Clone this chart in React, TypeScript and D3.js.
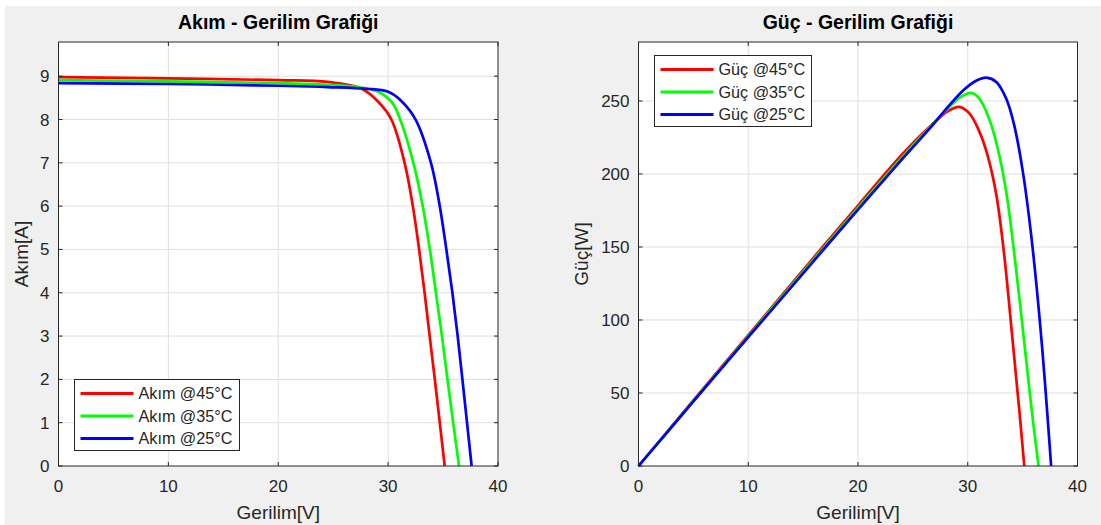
import React, { useEffect, useRef } from "react";
import * as d3 from "d3";

// I-V data (voltage in V, current in A)
const ivV45 = [0, 10, 20, 24.5, 27.6, 29.1, 30.3, 31.5, 32.25, 32.82, 33.32, 33.78, 34.25, 34.7, 35.15];
const ivI45 = [8.98, 8.95, 8.91, 8.87, 8.71, 8.41, 8.0, 7.0, 6.0, 5.0, 4.0, 3.0, 2.0, 1.0, 0];
const ivV35 = [0, 10, 20, 24.5, 27.5, 29.1, 30.4, 31.1, 32.3, 33.15, 33.8, 34.35, 34.9, 35.4, 35.92, 36.45];
const ivI35 = [8.91, 8.88, 8.84, 8.8, 8.74, 8.64, 8.38, 8.0, 7.0, 6.0, 5.0, 4.0, 3.0, 2.0, 1.0, 0];
const ivV25 = [0, 10, 20, 24.5, 28, 30, 31.2, 32.5, 33.9, 34.7, 35.3, 35.85, 36.33, 36.76, 37.18, 37.6];
const ivI25 = [8.84, 8.82, 8.78, 8.75, 8.71, 8.64, 8.43, 8.0, 7.0, 6.0, 5.0, 4.0, 3.0, 2.0, 1.0, 0];

// P-V data (voltage in V, power in W)
const pvV45 = [0, 5, 10, 15, 20, 24, 26.7, 28.2, 29.2, 30.15, 31.06, 31.8, 32.6, 33.3, 34.1, 34.7, 35.15];
const pvP45 = [0, 44.9, 89.6, 134.2, 178.4, 213.2, 233.5, 243, 246, 241.5, 229, 213, 186, 146, 85, 38, 0];
const pvV35 = [0, 5, 10, 15, 20, 24, 26.7, 28.2, 29.4, 30.3, 31.06, 32, 32.7, 33.5, 34.2, 35, 35.8, 36.45];
const pvP35 = [0, 44.5, 88.8, 133, 176.8, 211.2, 233.2, 245, 253, 255.6, 251.7, 236.8, 218.5, 188, 148, 95, 40, 0];
const pvV25 = [0, 5, 10, 15, 20, 24, 26.7, 28.2, 29.7, 30.8, 31.7, 32.6, 33.5, 34.2, 35, 35.8, 36.7, 37.6];
const pvP25 = [0, 44.2, 88.2, 132, 175.6, 210, 232.6, 246, 258, 264, 266, 263, 251.7, 234.5, 202.5, 156.8, 88, 0];

const seriesColors = ["#ff0000", "#00ff00", "#0000ff"];
const temps = ["45", "35", "25"];
const xTicks = [0, 10, 20, 30, 40];
const ivTicks = [0, 1, 2, 3, 4, 5, 6, 7, 8, 9];
const pvTicks = [0, 50, 100, 150, 200, 250];

const FONT = "'Liberation Sans', Arial, Helvetica, sans-serif";

function drawPanel(svg, cfg) {
  const { left, right, top, bottom, yMax, yTicks, series, title, yLabel, yLabelX, legendNames, legendBox } = cfg;
  const x = d3.scaleLinear().domain([0, 40]).range([left, right]);
  const y = d3.scaleLinear().domain([0, yMax]).range([bottom, top]);

  const g = svg.append("g");

  g.append("rect")
    .attr("x", left).attr("y", top)
    .attr("width", right - left).attr("height", bottom - top)
    .attr("fill", "#ffffff");

  // grid
  g.selectAll(".gx").data(xTicks.slice(1, -1)).enter().append("line")
    .attr("x1", d => x(d)).attr("x2", d => x(d))
    .attr("y1", top).attr("y2", bottom)
    .attr("stroke", "#dfdfdf").attr("stroke-width", 1);
  g.selectAll(".gy").data(yTicks.slice(1)).enter().append("line")
    .attr("x1", left).attr("x2", right)
    .attr("y1", d => y(d)).attr("y2", d => y(d))
    .attr("stroke", "#dfdfdf").attr("stroke-width", 1);

  // curves
  const line = d3.line().x(d => x(d[0])).y(d => y(d[1])).curve(d3.curveCatmullRom.alpha(0.5));
  series.forEach((s, i) => {
    const pts = s.v.map((v, k) => [v, s.y[k]]);
    g.append("path")
      .attr("d", line(pts))
      .attr("fill", "none")
      .attr("stroke", seriesColors[i])
      .attr("stroke-width", 2.7)
      .attr("stroke-linejoin", "round");
  });

  // box
  g.append("rect")
    .attr("x", left).attr("y", top)
    .attr("width", right - left).attr("height", bottom - top)
    .attr("fill", "none").attr("stroke", "#262626").attr("stroke-width", 1);

  // ticks (inside, all four sides)
  const tl = 4;
  xTicks.forEach(t => {
    g.append("line").attr("x1", x(t)).attr("x2", x(t)).attr("y1", bottom).attr("y2", bottom - tl).attr("stroke", "#262626");
    g.append("line").attr("x1", x(t)).attr("x2", x(t)).attr("y1", top).attr("y2", top + tl).attr("stroke", "#262626");
  });
  yTicks.forEach(t => {
    g.append("line").attr("x1", left).attr("x2", left + tl).attr("y1", y(t)).attr("y2", y(t)).attr("stroke", "#262626");
    g.append("line").attr("x1", right).attr("x2", right - tl).attr("y1", y(t)).attr("y2", y(t)).attr("stroke", "#262626");
  });

  // tick labels
  g.selectAll(".xl").data(xTicks).enter().append("text")
    .attr("x", d => x(d)).attr("y", bottom + 26)
    .attr("text-anchor", "middle")
    .style("font-family", FONT).style("font-size", "17px").attr("fill", "#262626")
    .text(d => d);
  g.selectAll(".yl").data(yTicks).enter().append("text")
    .attr("x", left - 9).attr("y", d => y(d) + 6)
    .attr("text-anchor", "end")
    .style("font-family", FONT).style("font-size", "17px").attr("fill", "#262626")
    .text(d => d);

  // title
  g.append("text")
    .attr("x", (left + right) / 2).attr("y", 29)
    .attr("text-anchor", "middle")
    .style("font-family", FONT).style("font-size", "19.5px").style("font-weight", "bold")
    .attr("fill", "#000000")
    .text(title);

  // axis labels
  g.append("text")
    .attr("x", (left + right) / 2).attr("y", bottom + 53)
    .attr("text-anchor", "middle")
    .style("font-family", FONT).style("font-size", "19px").attr("fill", "#262626")
    .text("Gerilim[V]");
  g.append("text")
    .attr("transform", `translate(${yLabelX},${(top + bottom) / 2}) rotate(-90)`)
    .attr("text-anchor", "middle")
    .style("font-family", FONT).style("font-size", "19px").attr("fill", "#262626")
    .text(yLabel);

  // legend
  const lg = g.append("g");
  lg.append("rect")
    .attr("x", legendBox.x).attr("y", legendBox.y)
    .attr("width", legendBox.w).attr("height", legendBox.h)
    .attr("fill", "#ffffff").attr("stroke", "#262626").attr("stroke-width", 1);
  legendNames.forEach((name, i) => {
    const cy = legendBox.y + 14 + i * 22.5;
    lg.append("line")
      .attr("x1", legendBox.x + 6).attr("x2", legendBox.x + 59)
      .attr("y1", cy).attr("y2", cy)
      .attr("stroke", seriesColors[i]).attr("stroke-width", 3);
    lg.append("text")
      .attr("x", legendBox.x + 64).attr("y", cy + 5.5)
      .style("font-family", FONT).style("font-size", "16.2px").attr("fill", "#262626")
      .text(name);
  });
}

export default function App() {
  const ref = useRef(null);

  useEffect(() => {
    const svg = d3.select(ref.current);
    svg.selectAll("*").remove();

    svg.append("rect").attr("x", 0).attr("y", 0).attr("width", 1101).attr("height", 525).attr("fill", "#ffffff");
    svg.append("rect").attr("x", 5).attr("y", 6).attr("width", 1096).attr("height", 519).attr("fill", "#f0f0f0");

    drawPanel(svg, {
      left: 58.5, right: 498, top: 42, bottom: 466,
      yMax: 9.79, yTicks: ivTicks,
      series: [
        { v: ivV45, y: ivI45 },
        { v: ivV35, y: ivI35 },
        { v: ivV25, y: ivI25 },
      ],
      title: "Akım - Gerilim Grafiği",
      yLabel: "Akım[A]",
      yLabelX: 28,
      legendNames: temps.map(t => `Akım @${t}°C`),
      legendBox: { x: 74.5, y: 379.5, w: 165, h: 71 },
    });

    drawPanel(svg, {
      left: 638.5, right: 1077.5, top: 42, bottom: 466,
      yMax: 290.4, yTicks: pvTicks,
      series: [
        { v: pvV45, y: pvP45 },
        { v: pvV35, y: pvP35 },
        { v: pvV25, y: pvP25 },
      ],
      title: "Güç - Gerilim Grafiği",
      yLabel: "Güç[W]",
      yLabelX: 588,
      legendNames: temps.map(t => `Güç @${t}°C`),
      legendBox: { x: 654.5, y: 55.5, w: 157, h: 71 },
    });
  }, []);

  return (
    <div style={{ position: "absolute", left: 0, top: 0 }}>
      <svg ref={ref} width={1101} height={525} style={{ display: "block" }}></svg>
    </div>
  );
}
